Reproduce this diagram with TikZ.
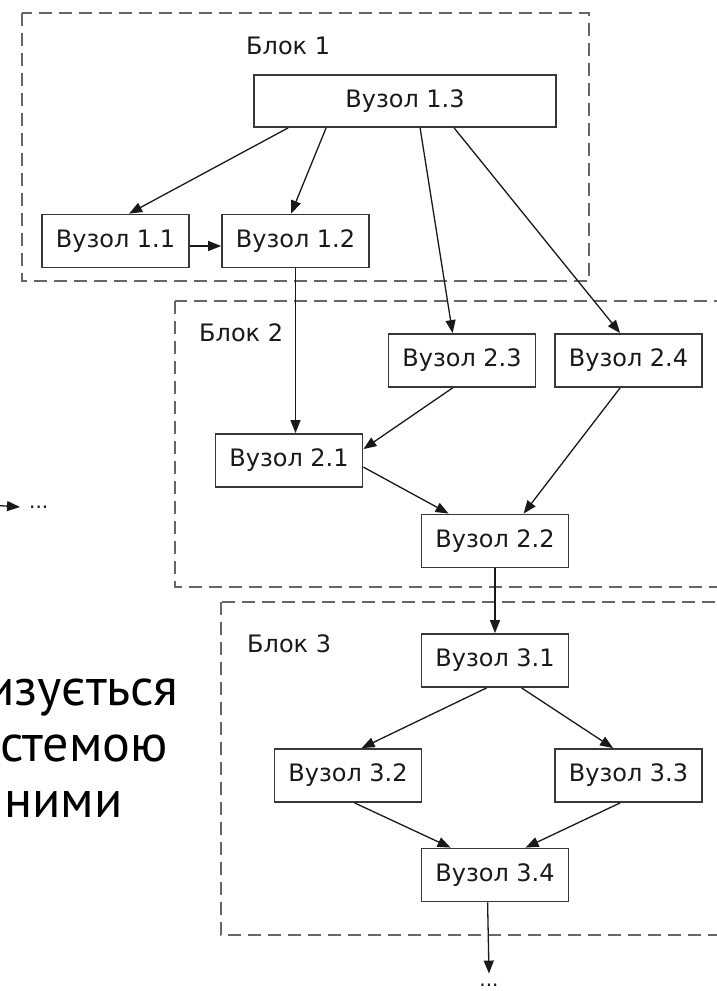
\documentclass[tikz,border=0pt]{standalone}
\usepackage{fontspec}
\setmainfont{DejaVu Sans}
\newfontfamily\bigfont{PT Sans}
\usetikzlibrary{arrows.meta}
\begin{document}
\begin{tikzpicture}[x=1pt,y=-1pt,
  box/.style={draw=black!78, line width=1.8pt, fill=white, minimum width=147pt, minimum height=53pt, inner sep=0pt, font=\fontsize{24}{28}\selectfont, text=black!90},
  blk/.style={draw=black!60, line width=2.4pt, dash pattern=on 13pt off 7pt},
  conn/.style={draw=black!90, line width=1.3pt, -{Triangle[length=13pt,width=10pt]}},
  lbl/.style={anchor=west, font=\fontsize{24}{28}\selectfont, text=black!90, inner sep=0pt},
  big/.style={anchor=base west, inner sep=0pt, font=\bigfont\fontsize{52}{60}\selectfont, text=black},
  dots/.style={inner sep=0pt, font=\fontsize{20}{24}\selectfont, text=black!90}
]
\useasboundingbox (0,0) rectangle (716,991);
\fill[white] (0,0) rectangle (716,991);

% blocks
\draw[blk] (22,13) rectangle (589,281);
\draw[blk] (175,301) rectangle (745,587);
\draw[blk] (221,602) rectangle (745,935);
\node[lbl] (b1) at (246,46) {Блок 1};
\node[lbl] (b2) at (199,333) {Блок 2};
\node[lbl] (b3) at (247,644) {Блок 3};

% nodes
\node[box, minimum width=302pt, minimum height=52pt] (n13) at (405,101) {Вузол 1.3};
\node[box] (n11) at (115.5,241) {Вузол 1.1};
\node[box] (n12) at (295.5,241) {Вузол 1.2};
\node[box] (n23) at (462,360.5) {Вузол 2.3};
\node[box] (n24) at (628.5,360.5) {Вузол 2.4};
\node[box] (n21) at (289,460.5) {Вузол 2.1};
\node[box] (n22) at (495,541) {Вузол 2.2};
\node[box] (n31) at (495,660.5) {Вузол 3.1};
\node[box] (n32) at (348,775.5) {Вузол 3.2};
\node[box] (n33) at (628.5,775.5) {Вузол 3.3};
\node[box] (n34) at (495,875) {Вузол 3.4};

\node[dots] (d1) at (489,985) {...};
\node[dots, anchor=west] (d2) at (29,507) {...};
\coordinate (lstart) at (-10,505);

% connectors
\draw[conn] ([xshift=35pt]n13.south west) -- ([xshift=88pt]n11.north west);
\draw[conn] ([xshift=73pt]n13.south west) -- ([xshift=70pt]n12.north west);
\draw[conn] ([xshift=167pt]n13.south west) -- ([xshift=65pt]n23.north west);
\draw[conn] ([xshift=201pt]n13.south west) -- ([xshift=66pt]n24.north west);
\draw[conn] ([yshift=-5pt]n11.east) -- ([yshift=-5pt]n12.west);
\draw[conn] (n12.south) -- (n12.south |- n21.north);
\draw[conn] ([xshift=65pt]n23.south west) -- ([yshift=-16pt]n21.north east);
\draw[conn] ([yshift=-34pt]n21.north east) -- ([xshift=28pt]n22.north west);
\draw[conn] ([xshift=66pt]n24.south west) -- ([xshift=103pt]n22.north west);
\draw[conn] (n22.south) -- (n31.north);
\draw[conn] ([xshift=66pt]n31.south west) -- ([xshift=88pt]n32.north west);
\draw[conn] ([xshift=101pt]n31.south west) -- ([xshift=59pt]n33.north west);
\draw[conn] ([xshift=81pt]n32.south west) -- ([xshift=30pt]n34.north west);
\draw[conn] ([xshift=66pt]n33.south west) -- ([xshift=105pt]n34.north west);
\draw[conn] ([xshift=67pt]n34.south west) -- ([yshift=10pt]d1.north);
\draw[conn] (lstart) -- ([xshift=-9pt]d2.west);

% cropped slide text
\node[big] (t1) at (-14,705) {изується};
\node[big] (t2) at (0,761) {стемою};
\node[big] (t3) at (4,817) {ними};
\end{tikzpicture}
\end{document}
